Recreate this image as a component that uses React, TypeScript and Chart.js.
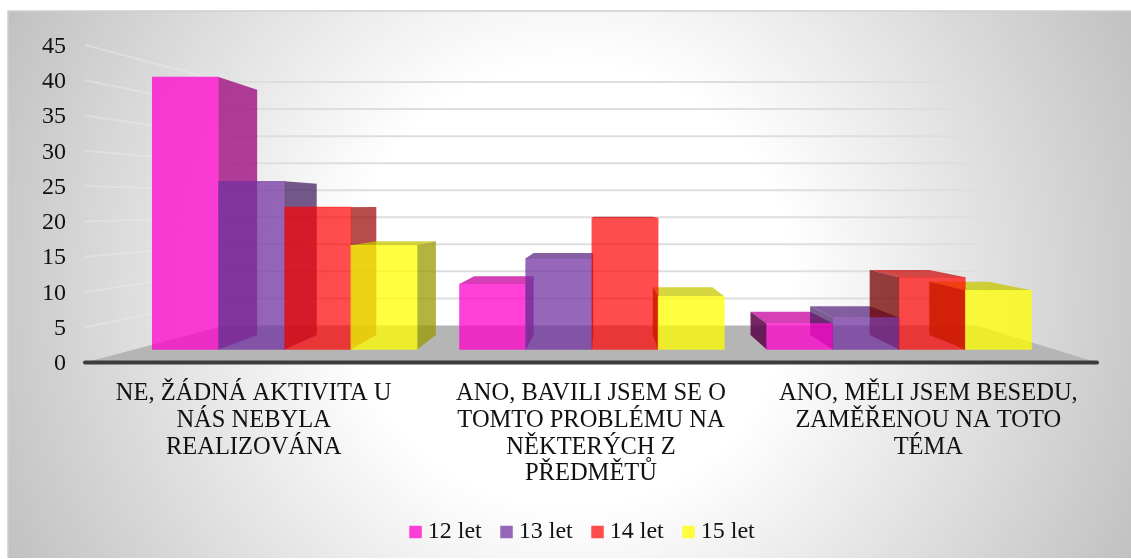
import React, { useEffect, useRef } from "react";
import { Chart, registerables } from "chart.js";

Chart.register(...registerables);

const categories: string[][] = [
  ["NE, ŽÁDNÁ AKTIVITA U", "NÁS NEBYLA", "REALIZOVÁNA"],
  ["ANO, BAVILI JSEM SE O", "TOMTO PROBLÉMU NA", "NĚKTERÝCH Z", "PŘEDMĚTŮ"],
  ["ANO, MĚLI JSEM BESEDU,", "ZAMĚŘENOU NA TOTO", "TÉMA"],
];
const age12 = [40, 9.6, 3.8];
const age13 = [24.7, 13.4, 4.7];
const age14 = [20.9, 19.3, 10.6];
const age15 = [15.3, 7.8, 8.7];
const seriesNames = ["12 let", "13 let", "14 let", "15 let"];
const seriesRgb = [
  [255, 0, 204],
  [112, 48, 160],
  [255, 0, 0],
  [255, 255, 0],
];
const seriesAlpha = [0.75, 0.73, 0.7, 0.75];
const leftFaceShade = [0.35, 0.6, 0.45, 0.35];
const leftFaceAlpha = [0.85, 0.7, 0.75, 0.85];

const FONT = "'Liberation Serif', 'Times New Roman', serif";
const VP = { x: 605, y: 205 };
const DEPTH = 0.1;

const back = (x: number, y: number) => ({
  x: x + (VP.x - x) * DEPTH,
  y: y + (VP.y - y) * DEPTH,
});

const shade = (rgb: number[], f: number, a: number) =>
  `rgba(${Math.round(rgb[0] * f)},${Math.round(rgb[1] * f)},${Math.round(rgb[2] * f)},${a})`;

function poly(ctx: CanvasRenderingContext2D, pts: { x: number; y: number }[], fill: string) {
  ctx.beginPath();
  pts.forEach((p, i) => (i ? ctx.lineTo(p.x, p.y) : ctx.moveTo(p.x, p.y)));
  ctx.closePath();
  ctx.fillStyle = fill;
  ctx.fill();
}

const scene = {
  id: "scene",
  afterLayout(chart: any) {
    chart.legend.left += 19.5;
    chart.legend.right += 19.5;
  },
  beforeDraw(chart: any) {
    const { ctx } = chart;
    ctx.save();
    ctx.fillStyle = "#ffffff";
    ctx.fillRect(0, 0, 1131, 559);
    const g = ctx.createRadialGradient(570, 285, 0, 570, 285, 630);
    g.addColorStop(0, "#ffffff");
    g.addColorStop(0.35, "#ffffff");
    g.addColorStop(1, "#c0c0c0");
    ctx.fillStyle = g;
    ctx.fillRect(8, 11, 1123, 547);
    ctx.strokeStyle = "#cfcfcf";
    ctx.lineWidth = 1.5;
    ctx.beginPath();
    ctx.moveTo(8, 558);
    ctx.lineTo(8, 11);
    ctx.lineTo(1131, 11);
    ctx.stroke();
    ctx.restore();
  },
  beforeDatasetsDraw(chart: any) {
    const { ctx, scales } = chart;
    const wallL = 225;
    const wallR = 977;
    const left = chart.chartArea.left;
    const right = chart.chartArea.right;
    const floorY = scales.yw.getPixelForValue(0);
    const frontY = scales.y.getPixelForValue(0);
    ctx.save();
    ctx.lineWidth = 2;
    scales.y.ticks.forEach((t: any) => {
      if (t.value === 0) return;
      const fy = scales.y.getPixelForValue(t.value);
      const by = scales.yw.getPixelForValue(t.value);
      ctx.strokeStyle = "rgba(236,236,236,0.45)";
      ctx.beginPath();
      ctx.moveTo(left, fy);
      ctx.lineTo(wallL, by);
      ctx.stroke();
      ctx.strokeStyle = "#dedede";
      ctx.beginPath();
      ctx.moveTo(wallL, by);
      ctx.lineTo(wallR, by);
      ctx.stroke();
    });
    poly(
      ctx,
      [
        { x: left, y: frontY },
        { x: wallL, y: floorY },
        { x: wallR, y: floorY },
        { x: right, y: frontY },
      ],
      "#b5b5b5"
    );
    ctx.strokeStyle = "#3c3c3c";
    ctx.lineWidth = 4;
    ctx.lineCap = "round";
    ctx.beginPath();
    ctx.moveTo(left, frontY);
    ctx.lineTo(right, frontY);
    ctx.stroke();
    ctx.restore();
  },
  beforeDatasetDraw() {
    return false;
  },
  afterDatasetsDraw(chart: any) {
    const { ctx } = chart;
    chart.data.datasets.forEach((_: any, di: number) => {
      const rgb = seriesRgb[di];
      const a = seriesAlpha[di];
      chart.getDatasetMeta(di).data.forEach((el: any) => {
        const l = el.x - el.width / 2;
        const r = el.x + el.width / 2;
        const t = el.y;
        const b = el.base;
        if (t > VP.y) {
          poly(ctx, [{ x: l, y: t }, { x: r, y: t }, back(r, t), back(l, t)], shade(rgb, 0.78, a));
        }
        if (r < VP.x) {
          poly(ctx, [{ x: r, y: t }, back(r, t), back(r, b), { x: r, y: b }], shade(rgb, 0.6, a));
        }
        if (l > VP.x) {
          poly(
            ctx,
            [{ x: l, y: t }, back(l, t), back(l, b), { x: l, y: b }],
            shade(rgb, leftFaceShade[di], leftFaceAlpha[di])
          );
        }
      });
    });
    chart.data.datasets.forEach((_: any, di: number) => {
      chart.getDatasetMeta(di).data.forEach((el: any) => el.draw(ctx));
    });
  },
};

export default function App() {
  const ref = useRef<HTMLCanvasElement>(null);
  useEffect(() => {
    const series = [age12, age13, age14, age15];
    const chart = new Chart(ref.current as HTMLCanvasElement, {
      type: "bar",
      plugins: [scene],
      data: {
        labels: categories as any,
        datasets: series.map((vals, i) => ({
          label: seriesNames[i],
          data: vals.map((v, k) => ({ x: k, y: v })),
          xAxisID: "xb",
          yAxisID: "yb",
          backgroundColor: `rgba(${seriesRgb[i].join(",")},${seriesAlpha[i]})`,
          borderWidth: 0,
          barThickness: 66.2,
        })),
      } as any,
      options: {
        responsive: false,
        animation: false,
        devicePixelRatio: 1,
        layout: { padding: { top: 45, right: 34, bottom: 5, left: 34 } },
        plugins: {
          tooltip: { enabled: false },
          legend: {
            position: "bottom",
            maxHeight: 66,
            labels: {
              usePointStyle: true,
              pointStyle: "rect",
              boxWidth: 0.5,
              boxHeight: 12.5,
              padding: 24.5,
              color: "#111111",
              font: { family: FONT, size: 24 },
            },
          },
        },
        scales: {
          x: {
            type: "category",
            offset: true,
            position: "bottom",
            grid: { display: false },
            border: { display: false },
            ticks: {
              color: "#111111",
              autoSkip: false,
              maxRotation: 0,
              minRotation: 0,
              padding: 10,
              font: { family: FONT, size: 24.5, lineHeight: 1.09 },
            },
            afterFit: (s: any) => {
              s.height = 133;
            },
          },
          xb: {
            type: "linear",
            axis: "x",
            display: false,
            offset: false,
            position: "bottom",
            min: (85 - 284.7) / 307.2,
            max: (1097 - 284.7) / 307.2,
          },
          y: {
            type: "linear",
            position: "left",
            min: 0,
            max: 45,
            grid: { display: false },
            border: { display: false },
            ticks: {
              stepSize: 5,
              padding: 11,
              labelOffset: 1.5,
              color: "#111111",
              font: { family: FONT, size: 24 },
            },
            afterFit: (s: any) => {
              s.width = 51;
            },
          },
          yb: {
            type: "linear",
            axis: "y",
            display: false,
            position: "left",
            min: -13 / 6.8,
            max: 304 / 6.8,
          },
          yw: {
            type: "linear",
            axis: "y",
            display: false,
            position: "left",
            min: -37 / 5.4,
            max: 280 / 5.4,
          },
        },
      },
    } as any);
    return () => chart.destroy();
  }, []);
  return (
    <canvas
      ref={ref}
      width={1131}
      height={559}
      style={{ position: "absolute", left: 0, top: 0, display: "block" }}
    />
  );
}
